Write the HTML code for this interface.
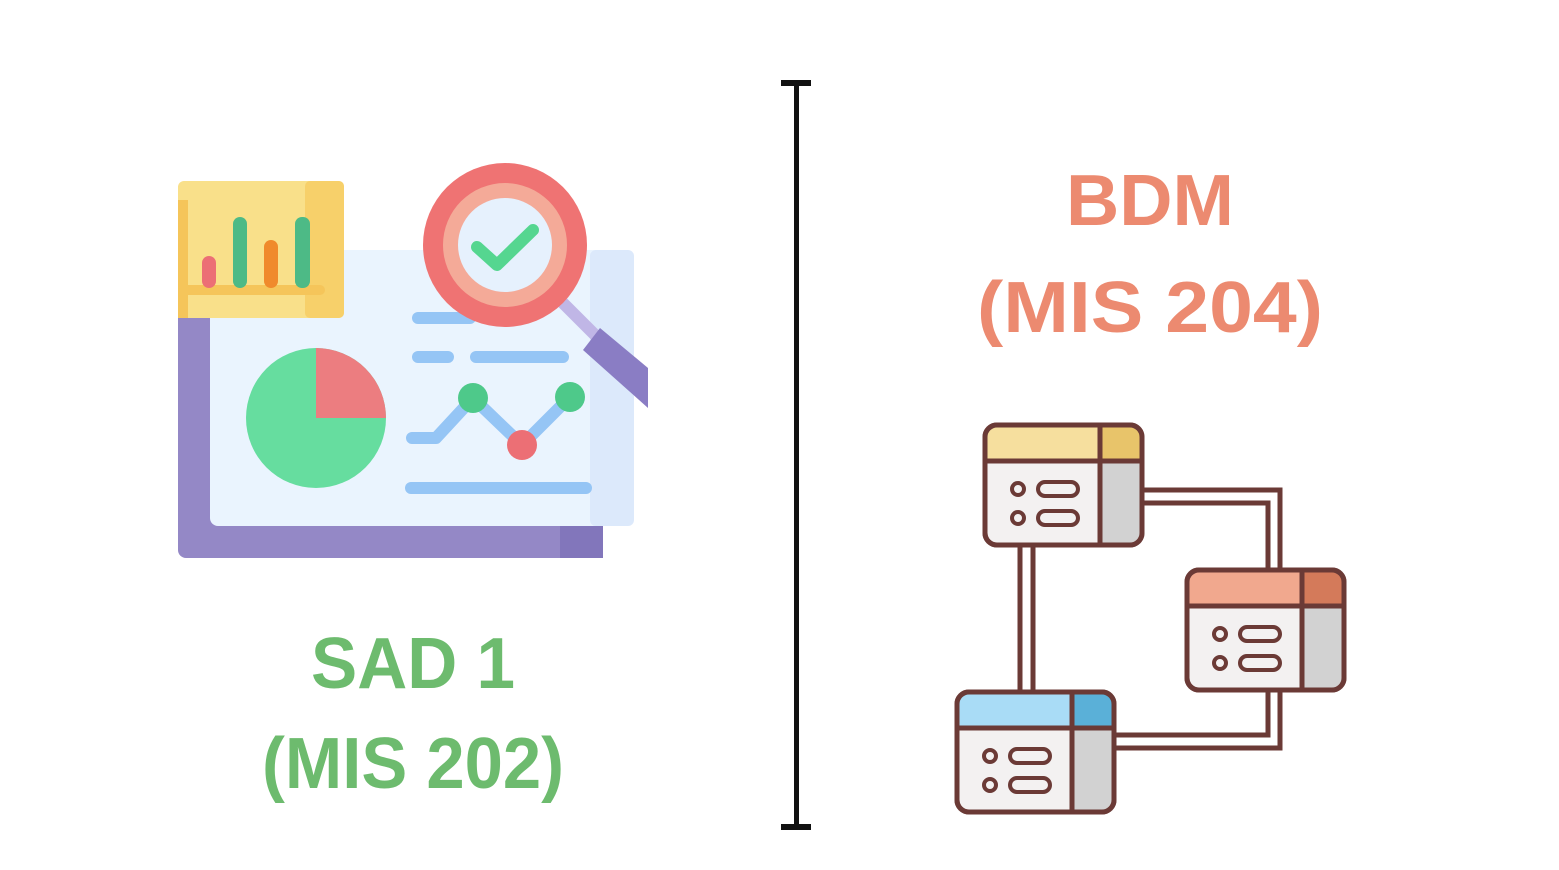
<!DOCTYPE html><html><head><style>body{margin:0;background:#fff}svg{display:block}</style></head><body>
<svg width="1559" height="870" viewBox="0 0 1559 870" xmlns="http://www.w3.org/2000/svg">
<rect width="1559" height="870" fill="#fff"/>
<!-- left icon -->
<rect x="178" y="250" width="425" height="308" rx="8" fill="#9488c6"/>
<rect x="560" y="525" width="43" height="33" fill="#8276bb"/>
<rect x="210" y="250" width="424" height="276" rx="8" fill="#eaf4fe"/>
<rect x="590" y="250" width="44" height="276" rx="6" fill="#dce9fb"/>
<rect x="178" y="181" width="166" height="137" rx="6" fill="#f9e08a"/>
<rect x="305" y="181" width="39" height="137" rx="5" fill="#f7d06a"/>
<rect x="178" y="200" width="10" height="118" fill="#f5c55a"/>
<rect x="178" y="285" width="147" height="10" rx="5" fill="#f5c55a"/>
<rect x="202" y="256" width="14" height="32" rx="7" fill="#ec6f75"/>
<rect x="233" y="217" width="14" height="71" rx="7" fill="#4dba86"/>
<rect x="264" y="240" width="14" height="48" rx="7" fill="#f08a2c"/>
<rect x="295" y="217" width="15" height="71" rx="7" fill="#4dba86"/>
<circle cx="316" cy="418" r="70" fill="#66dd9f"/>
<path d="M316 418 L316 348 A70 70 0 0 1 386 418 Z" fill="#ec7d80"/>
<g stroke="#95c5f5" stroke-width="12" stroke-linecap="round" fill="none">
<line x1="418" y1="318" x2="470" y2="318"/>
<line x1="418" y1="357" x2="448" y2="357"/>
<line x1="476" y1="357" x2="563" y2="357"/>
<line x1="411" y1="488" x2="586" y2="488"/>
<polyline points="412,438 436,438 473,398 522,445 570,397" stroke-linejoin="round"/>
</g>
<circle cx="473" cy="398" r="15" fill="#4ec98a"/>
<circle cx="570" cy="397" r="15" fill="#4ec98a"/>
<circle cx="522" cy="445" r="15" fill="#ec6f75"/>
<line x1="560" y1="300" x2="600" y2="340" stroke="#c0b6e6" stroke-width="12"/>
<polygon points="600,328 648,368 648,408 583,350" fill="#8a7dc4"/>
<circle cx="505" cy="245" r="82" fill="#ef7373"/>
<circle cx="505" cy="245" r="62" fill="#f4aa98"/>
<circle cx="505" cy="245" r="47" fill="#e6f1fd"/>
<polyline points="477,247 497,265 533,230" fill="none" stroke="#55d690" stroke-width="12" stroke-linecap="round" stroke-linejoin="round"/>
<!-- divider -->
<rect x="794" y="82" width="5" height="746" fill="#111"/>
<rect x="781" y="80" width="30" height="6" fill="#111"/>
<rect x="781" y="824" width="30" height="6" fill="#111"/>
<!-- texts -->
<g font-family="Liberation Sans, sans-serif" font-weight="bold" text-anchor="middle">
<text x="1150" y="225" font-size="72" fill="#ec8a70" textLength="168" lengthAdjust="spacingAndGlyphs">BDM</text>
<text x="1150" y="332" font-size="72" fill="#ec8a70" textLength="346" lengthAdjust="spacingAndGlyphs">(MIS 204)</text>
<text x="413" y="688" font-size="72" fill="#6dbb6e" textLength="204" lengthAdjust="spacingAndGlyphs">SAD 1</text>
<text x="413" y="788" font-size="72" fill="#6dbb6e" textLength="302" lengthAdjust="spacingAndGlyphs">(MIS 202)</text>
</g>
<!-- right icon -->
<g stroke="#6b3a36" stroke-width="5" fill="none">
<path d="M1142 490 H1280 V570 M1142 503 H1268 V570"/>
<path d="M1020 545 V692 M1033 545 V692"/>
<path d="M1280 688 V748 H1113 M1268 688 V735 H1113"/>
</g>
<g stroke="#6b3a36" stroke-width="5">
<g>
<rect x="985" y="425" width="157" height="120" rx="12" fill="#f3f1f1"/>
<rect x="1100" y="461" width="40" height="82" fill="#d2d2d2" stroke="none"/>
<path d="M987 461 V437 Q987 427 997 427 H1130 Q1140 427 1140 437 V461 Z" fill="#f6df9e" stroke="none"/>
<path d="M1100 427 H1130 Q1140 427 1140 437 V461 H1100 Z" fill="#e8c46a" stroke="none"/>
<rect x="985" y="425" width="157" height="120" rx="12" fill="none"/>
<line x1="985" y1="461" x2="1142" y2="461"/><line x1="1100" y1="425" x2="1100" y2="545"/>
<circle cx="1018" cy="489" r="6" fill="none" stroke-width="4"/><circle cx="1018" cy="518" r="6" fill="none" stroke-width="4"/>
<rect x="1038" y="482" width="40" height="14" rx="7" fill="none" stroke-width="4"/><rect x="1038" y="511" width="40" height="14" rx="7" fill="none" stroke-width="4"/>
</g>
<g transform="translate(202,145)">
<rect x="985" y="425" width="157" height="120" rx="12" fill="#f3f1f1"/>
<rect x="1100" y="461" width="40" height="82" fill="#d2d2d2" stroke="none"/>
<path d="M987 461 V437 Q987 427 997 427 H1130 Q1140 427 1140 437 V461 Z" fill="#f1a88e" stroke="none"/>
<path d="M1100 427 H1130 Q1140 427 1140 437 V461 H1100 Z" fill="#d47a5a" stroke="none"/>
<rect x="985" y="425" width="157" height="120" rx="12" fill="none"/>
<line x1="985" y1="461" x2="1142" y2="461"/><line x1="1100" y1="425" x2="1100" y2="545"/>
<circle cx="1018" cy="489" r="6" fill="none" stroke-width="4"/><circle cx="1018" cy="518" r="6" fill="none" stroke-width="4"/>
<rect x="1038" y="482" width="40" height="14" rx="7" fill="none" stroke-width="4"/><rect x="1038" y="511" width="40" height="14" rx="7" fill="none" stroke-width="4"/>
</g>
<g transform="translate(-28,267)">
<rect x="985" y="425" width="157" height="120" rx="12" fill="#f3f1f1"/>
<rect x="1100" y="461" width="40" height="82" fill="#d2d2d2" stroke="none"/>
<path d="M987 461 V437 Q987 427 997 427 H1130 Q1140 427 1140 437 V461 Z" fill="#a9dcf6" stroke="none"/>
<path d="M1100 427 H1130 Q1140 427 1140 437 V461 H1100 Z" fill="#5ab0d8" stroke="none"/>
<rect x="985" y="425" width="157" height="120" rx="12" fill="none"/>
<line x1="985" y1="461" x2="1142" y2="461"/><line x1="1100" y1="425" x2="1100" y2="545"/>
<circle cx="1018" cy="489" r="6" fill="none" stroke-width="4"/><circle cx="1018" cy="518" r="6" fill="none" stroke-width="4"/>
<rect x="1038" y="482" width="40" height="14" rx="7" fill="none" stroke-width="4"/><rect x="1038" y="511" width="40" height="14" rx="7" fill="none" stroke-width="4"/>
</g>
</g>
</svg>
</body></html>
